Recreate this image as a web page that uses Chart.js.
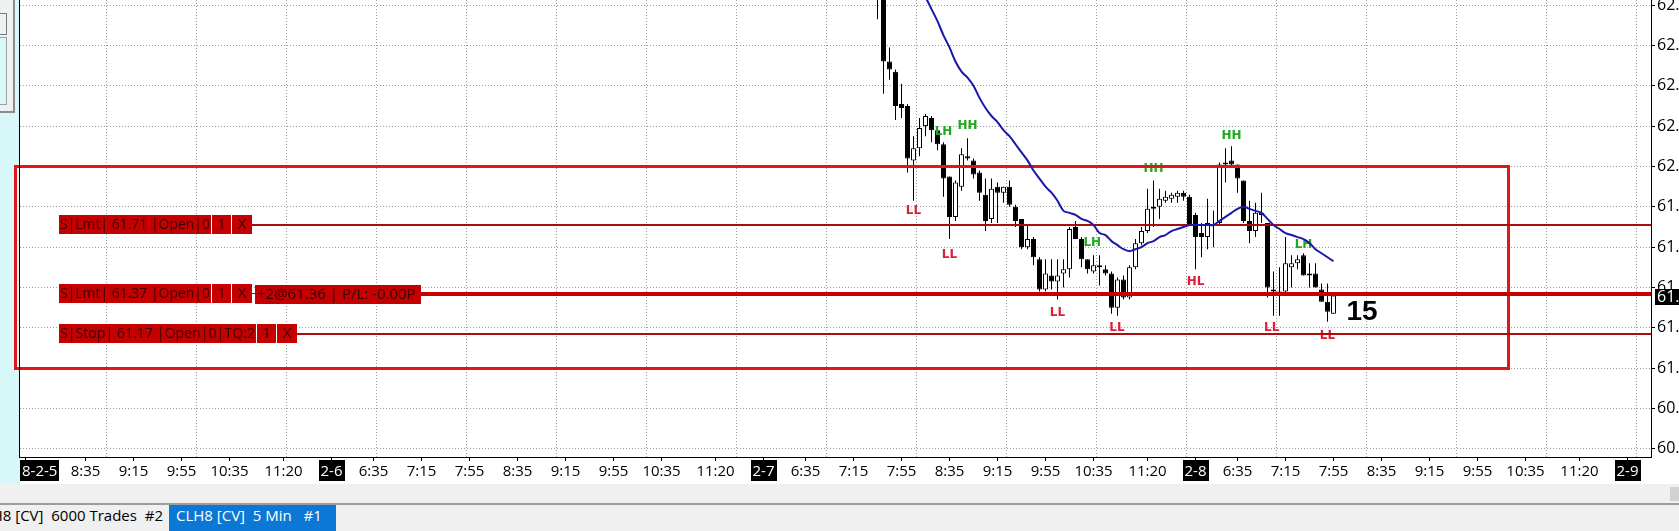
<!DOCTYPE html>
<html>
<head>
<meta charset="utf-8">
<title>CLH8 [CV] 5 Min</title>
<script src="https://cdn.jsdelivr.net/npm/chart.js@4.4.1/dist/chart.umd.min.js"></script>
<style>
  html, body { margin: 0; padding: 0; background: #f0f0f0; overflow: hidden; }
  #wrap { position: relative; width: 1679px; height: 531px; background: #f0f0f0; }
  #chart { position: absolute; left: 0; top: 0; }
  #widget { position: absolute; left: 0; top: 0; width: 13px; height: 111px; background: #eef1f1; border-right: 2px solid #8c8c8c; border-bottom: 2px solid #8c8c8c; }
  #widget .a { position: absolute; left: 0; top: 13px; width: 6px; height: 20px; border: 1px solid #7a7a7a; border-left: none; }
  #widget .b { position: absolute; left: 0; top: 37px; width: 6px; height: 66px; border: 1px solid #a0a0a0; border-left: none; background: #d7f7f8; }
  #strip { position: absolute; left: 0; top: 484px; width: 1679px; height: 19px; background: #f0f0f0; border-bottom: 2px solid #9c9c9c; }
  #knob { position: absolute; right: 0; top: 487px; width: 9px; height: 14px; background: #d2d2d2; }
  .tab { position: absolute; top: 505px; height: 26px; line-height: 26px; font: 15px "Open Sans", sans-serif; white-space: pre; overflow: hidden; display: flex; }
  #tab1 { left: 0; width: 169px; background: #f0f0f0; color: #000; justify-content: flex-end; padding-right: 6px; box-sizing: border-box; }
  #tab2 { left: 169px; width: 167px; background: #0a78d4; color: #fff; padding-left: 7px; box-sizing: border-box; }
</style>
</head>
<body>
<div id="wrap">
  <canvas id="chart" width="1679" height="484"></canvas>
  <div id="widget"><div class="a"></div><div class="b"></div></div>
  <div id="strip"></div>
  <div id="knob"></div>
  <div class="tab" id="tab1"><span>CLH8 [CV]  6000 Trades  #2</span></div>
  <div class="tab" id="tab2"><span>CLH8 [CV]  5 Min   #1</span></div>
</div>
<script>
// bar numbers: 72 bars of 5 min per session, bar 0 = 2-5 6:00
const firstBar = 163;

// candles, from the first one that shows at the top
const opens = [
  62.98, 62.86, 62.52, 62.47, 62.31, 62.30, 62.03, 62.09, 62.20, 62.24,
  62.18, 62.11, 61.95, 61.75, 61.90, 62.05, 62.03, 61.97, 61.86, 61.74,
  61.90, 61.87, 61.90, 61.80, 61.74, 61.60, 61.64, 61.54, 61.39, 61.46,
  61.43, 61.47, 61.49, 61.70, 61.64, 61.54, 61.48, 61.51, 61.49, 61.47,
  61.30, 61.44, 61.35, 61.50, 61.62, 61.68, 61.79, 61.80, 61.83, 61.84,
  61.85, 61.87, 61.85, 61.76, 61.67, 61.65, 61.71, 61.72, 62.01, 62.03,
  62.01, 61.93, 61.73, 61.68, 61.76, 61.72, 61.39, 61.37, 61.38, 61.50,
  61.52, 61.56, 61.46, 61.47, 61.39, 61.33, 61.27
];
const highs = [
  63.02, 62.88, 62.59, 62.48, 62.41, 62.31, 62.15, 62.24, 62.26, 62.25,
  62.19, 62.12, 61.95, 61.93, 62.09, 62.14, 62.04, 61.98, 61.94, 61.94,
  61.92, 61.90, 61.93, 61.81, 61.74, 61.71, 61.65, 61.55, 61.54, 61.54,
  61.54, 61.54, 61.70, 61.73, 61.65, 61.54, 61.56, 61.56, 61.51, 61.48,
  61.45, 61.46, 61.51, 61.64, 61.70, 61.89, 61.93, 61.89, 61.88, 61.87,
  61.88, 61.88, 61.86, 61.77, 61.72, 61.84, 61.78, 62.02, 62.09, 62.10,
  62.01, 61.93, 61.83, 61.82, 61.87, 61.72, 61.48, 61.50, 61.65, 61.56,
  61.56, 61.57, 61.52, 61.52, 61.42, 61.42, 61.36
];
const lows = [
  62.73, 62.36, 62.43, 62.23, 62.24, 61.97, 61.83, 62.05, 62.15, 62.12,
  62.08, 61.85, 61.64, 61.73, 61.88, 62.03, 61.94, 61.83, 61.68, 61.72,
  61.72, 61.82, 61.80, 61.70, 61.59, 61.59, 61.51, 61.38, 61.38, 61.39,
  61.34, 61.40, 61.45, 61.64, 61.50, 61.47, 61.47, 61.41, 61.46, 61.27,
  61.26, 61.34, 61.34, 61.49, 61.61, 61.67, 61.70, 61.74, 61.82, 61.82,
  61.82, 61.83, 61.71, 61.49, 61.55, 61.59, 61.60, 61.71, 61.92, 62.00,
  61.87, 61.72, 61.62, 61.65, 61.72, 61.35, 61.26, 61.26, 61.37, 61.40,
  61.49, 61.46, 61.40, 61.40, 61.33, 61.23, 61.27
];
const closes = [
  62.86, 62.52, 62.48, 62.30, 62.29, 62.04, 62.09, 62.19, 62.25, 62.18,
  62.11, 61.94, 61.75, 61.92, 62.06, 62.04, 61.96, 61.87, 61.73, 61.89,
  61.87, 61.90, 61.81, 61.73, 61.60, 61.64, 61.55, 61.39, 61.47, 61.43,
  61.46, 61.49, 61.69, 61.64, 61.54, 61.49, 61.51, 61.50, 61.47, 61.30,
  61.44, 61.35, 61.50, 61.62, 61.68, 61.79, 61.80, 61.84, 61.85, 61.86,
  61.87, 61.85, 61.71, 61.65, 61.65, 61.72, 61.71, 62.01, 62.02, 62.01,
  61.94, 61.73, 61.68, 61.77, 61.77, 61.40, 61.38, 61.38, 61.52, 61.52,
  61.54, 61.46, 61.47, 61.40, 61.33, 61.28, 61.36
];

// moving average, starts at candle 7
const maStart = 7;
const maValues = [
  62.90, 62.84, 62.78, 62.72, 62.65, 62.59, 62.52, 62.47, 62.44, 62.40,
  62.34, 62.29, 62.25, 62.22, 62.18, 62.15, 62.11, 62.07, 62.03, 61.98,
  61.94, 61.90, 61.87, 61.83, 61.78, 61.77, 61.76, 61.74, 61.73, 61.71,
  61.67, 61.66, 61.63, 61.61, 61.59, 61.58, 61.59, 61.60, 61.62, 61.63,
  61.65, 61.66, 61.68, 61.69, 61.70, 61.71, 61.71, 61.71, 61.71, 61.71,
  61.73, 61.75, 61.77, 61.79, 61.80, 61.79, 61.78, 61.77, 61.74, 61.71,
  61.69, 61.67, 61.66, 61.65, 61.64, 61.62, 61.59, 61.57, 61.55, 61.53
];

// swing marks (candle number, price of the text, text)
const swingBars   = [6, 11, 15, 12, 30, 35.8, 39.9, 46, 53, 59, 65.7, 71, 75];
const swingPrices = [61.78, 62.17, 62.20, 61.56, 61.275, 61.62, 61.20, 61.99, 61.43, 62.15, 61.20, 61.61, 61.16];
const swingTexts  = ['LL', 'LH', 'HH', 'LL', 'LL', 'LH', 'LL', 'HH', 'HL', 'HH', 'LL', 'LH', 'LL'];

// working orders
const orderPrices = [61.71, 61.37, 61.17];
const orderTexts = ['S|Lmt| 61.71 |Open|0', 'S|Lmt| 61.37 |Open|0', 'S|Stop| 61.17 |Open|0|TQ:2'];
const positionText = '+2@61.36 | P/L: -0.00P';
const lastPrice = 61.36;
const barTimer = '15';

// drawn rectangle
const zoneTop = 62.0, zoneBottom = 61.0;
const zoneFromBar = 19.25, zoneToBar = 268.13;

// axes
const tickBars = [21, 31, 39, 47, 55, 64,
  72, 79, 87, 95, 103, 111, 119, 127, 136,
  144, 151, 159, 167, 175, 183, 191, 199, 208,
  216, 223, 231, 239, 247, 255, 263, 271, 280, 288];
const tickLabels = ['8-2-5', '8:35', '9:15', '9:55', '10:35', '11:20',
  '2-6', '6:35', '7:15', '7:55', '8:35', '9:15', '9:55', '10:35', '11:20',
  '2-7', '6:35', '7:15', '7:55', '8:35', '9:15', '9:55', '10:35', '11:20',
  '2-8', '6:35', '7:15', '7:55', '8:35', '9:15', '9:55', '10:35', '11:20', '2-9'];
const gridBars = [34.58, 49.58, 64.58, 79.58, 94.58, 109.58, 124.58, 139.58, 154.58,
  169.58, 184.58, 199.58, 214.58, 229.58, 244.58, 259.58, 274.58, 289.58];
const priceTicks = [60.6, 60.8, 61.0, 61.2, 61.4, 61.6, 61.8, 62.0, 62.2, 62.4, 62.6, 62.8];
const barMin = 20.083, barMax = 291.917;
const priceMin = 60.56, priceMax = 62.825;

const candleBars = opens.map((o, k) => firstBar + k);
const wickData = candleBars.map((b, k) => ({ x: b, y: [lows[k], highs[k]] }));
const bodyData = candleBars.map((b, k) => ({ x: b, y: [Math.min(opens[k], closes[k]), Math.max(opens[k], closes[k])] }));
const bodyFill = opens.map((o, k) => closes[k] >= o ? '#ffffff' : '#000000');
const maData = maValues.map((v, n) => ({ x: firstBar + maStart + n, y: v }));

function drawMarks(chart) {
  const { ctx, chartArea, scales: { x, y } } = chart;
  ctx.save();

  // swing texts, under the order lines
  ctx.font = 'bold 12px "DejaVu Sans"';
  ctx.textAlign = 'center';
  ctx.textBaseline = 'middle';
  swingTexts.forEach((t, n) => {
    ctx.fillStyle = t.endsWith('H') ? '#21a821' : '#e01c3a';
    ctx.fillText(t, x.getPixelForValue(firstBar + swingBars[n]), y.getPixelForValue(swingPrices[n]));
  });

  // red rectangle
  const rx1 = Math.round(x.getPixelForValue(zoneFromBar));
  const rx2 = Math.round(x.getPixelForValue(zoneToBar));
  const ry1 = Math.round(y.getPixelForValue(zoneTop));
  const ry2 = Math.round(y.getPixelForValue(zoneBottom));
  ctx.strokeStyle = '#e21616';
  ctx.lineWidth = 3;
  ctx.strokeRect(rx1 + 0.5, ry1 + 0.5, rx2 - rx1, ry2 - ry1);

  // order lines and their boxes
  ctx.font = '15px "Open Sans"';
  const right = chartArea.right;
  orderPrices.forEach((price, n) => {
    const py = Math.round(y.getPixelForValue(price));
    const w = n === 2 ? 197 : 152;
    const boxes = [[59, w, orderTexts[n], 'left'], [60 + w, 19, '1', 'center'], [80 + w, 20, 'X', 'center']];
    let end = 100 + w;
    ctx.fillStyle = '#c40000';
    if (n === 1) {
      ctx.fillRect(end, py - 1, 3, 1);
      ctx.fillRect(255, py - 9, 166, 19);
      ctx.fillRect(421, py - 2, right - 421, 4);
    } else {
      ctx.fillStyle = '#a90e0e';
      ctx.fillRect(end, py - 1, right - end, 2);
    }
    ctx.fillStyle = '#c40000';
    boxes.forEach(b => ctx.fillRect(b[0], py - 10, b[1], 19));
    ctx.fillStyle = '#3a0000';
    boxes.forEach(b => {
      ctx.textAlign = b[3];
      const tx = b[3] === 'left' ? b[0] + 1 : b[0] + b[1] / 2;
      ctx.fillText(b[2], tx, py, b[1] - 2);
    });
    if (n === 1) {
      ctx.textAlign = 'left';
      ctx.fillText(positionText, 257, py + 1, 162);
    }
  });
  ctx.restore();
}

const chartPlugin = {
  id: 'screen',
  beforeDraw(chart) {
    const ctx = chart.ctx;
    ctx.save();
    ctx.fillStyle = '#d7f7f8';
    ctx.fillRect(0, 0, 20, chart.height);
    ctx.fillStyle = '#ffffff';
    ctx.fillRect(20, 0, chart.width - 20, chart.height);
    ctx.restore();
  },
  afterDatasetDraw(chart, args) {
    if (args.index === 1) drawMarks(chart);
  },
  afterDraw(chart) {
    const { ctx, chartArea, scales: { x, y } } = chart;
    ctx.save();
    // left border of the plot
    ctx.fillStyle = '#000';
    ctx.fillRect(19, 0, 1, chartArea.bottom + 1);

    // time labels
    ctx.font = '15px "Open Sans"';
    ctx.textAlign = 'left';
    ctx.textBaseline = 'middle';
    tickLabels.forEach((label, n) => {
      const w = ctx.measureText(label).width;
      let left = x.getPixelForValue(tickBars[n]) - w / 2;
      if (left < chartArea.left + 2) left = chartArea.left + 2;
      if (label.includes('-')) {
        ctx.fillStyle = '#000';
        ctx.fillRect(Math.round(left - 2), 460, Math.round(w + 4), 21);
        ctx.fillStyle = '#fff';
      } else {
        ctx.fillStyle = '#000';
      }
      ctx.fillText(label, left, 471.5);
    });

    // last price tag
    const py = y.getPixelForValue(lastPrice);
    ctx.font = '16px "Open Sans"';
    ctx.fillStyle = '#000';
    ctx.fillRect(1655, Math.round(py - 6.5), 24, 16);
    ctx.fillStyle = '#fff';
    ctx.fillText(lastPrice.toFixed(2), 1657, py + 1.5);

    // bar timer
    ctx.fillStyle = '#000';
    ctx.font = 'bold 28px "Liberation Sans"';
    ctx.textAlign = 'center';
    ctx.fillText(barTimer, x.getPixelForValue(firstBar + 80.75), y.getPixelForValue(61.275));
    ctx.restore();
  }
};

new Chart(document.getElementById('chart'), {
  type: 'bar',
  data: {
    datasets: [
      {
        label: 'wick', data: wickData, backgroundColor: '#000000', borderWidth: 0,
        barThickness: 1, grouped: false, inflateAmount: 0, minBarLength: 1, order: 3
      },
      {
        label: 'body', data: bodyData, backgroundColor: bodyFill, borderColor: '#000000',
        borderWidth: 1, borderSkipped: false, barThickness: 5, grouped: false,
        inflateAmount: 0, minBarLength: 1, order: 2
      },
      {
        type: 'line', label: 'ma', data: maData, borderColor: '#1818aa', borderWidth: 2,
        pointRadius: 0, tension: 0.3, fill: false, order: 1
      }
    ]
  },
  options: {
    responsive: false,
    animation: false,
    events: [],
    layout: { padding: { left: 20, top: 0, right: 0, bottom: 0 }, autoPadding: false },
    plugins: { legend: { display: false }, tooltip: { enabled: false } },
    scales: {
      x: {
        type: 'linear', position: 'bottom', min: barMin, max: barMax, offset: false,
        afterBuildTicks: s => { s.ticks = tickBars.map(v => ({ value: v })); },
        ticks: { display: false },
        grid: { drawOnChartArea: false, drawTicks: true, tickLength: 4, color: '#000', offset: false },
        border: { display: true, color: '#000', width: 1 },
        afterFit: s => { s.height = 27; s.paddingLeft = 0; s.paddingRight = 0; }
      },
      xg: {
        type: 'linear', position: 'bottom', min: barMin, max: barMax, offset: false,
        afterBuildTicks: s => { s.ticks = gridBars.map(v => ({ value: v })); },
        ticks: { display: false },
        grid: { drawOnChartArea: true, drawTicks: false, color: '#9e9e9e', offset: false },
        border: { display: false, dash: [1, 2] },
        afterFit: s => { s.height = 0; s.paddingLeft = 0; s.paddingRight = 0; }
      },
      y: {
        position: 'right', min: priceMin, max: priceMax, beginAtZero: false,
        afterBuildTicks: s => { s.ticks = priceTicks.map(v => ({ value: v })); },
        ticks: {
          color: '#000', padding: 2, font: { family: 'Open Sans', size: 16 },
          callback: v => v.toFixed(1)
        },
        grid: { color: '#9e9e9e', tickColor: '#000', tickLength: 4 },
        border: { display: true, color: '#000', width: 1, dash: [1, 2] },
        afterFit: s => { s.width = 28; s.paddingTop = 0; s.paddingBottom = 0; }
      }
    }
  },
  plugins: [chartPlugin]
});
</script>
</body>
</html>
